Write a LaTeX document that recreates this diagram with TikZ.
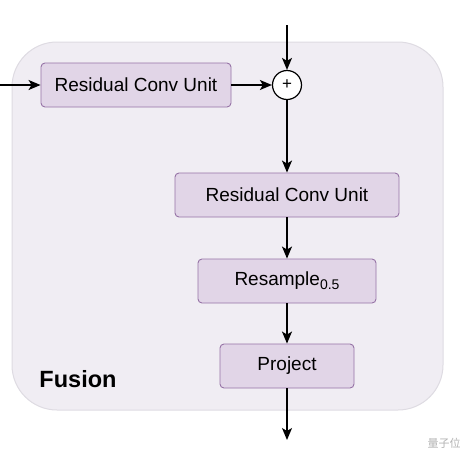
\documentclass[tikz,border=0pt]{standalone}
\usepackage{fontspec}
\setmainfont{Liberation Sans}
\newfontfamily\cjkfont{Noto Sans CJK SC}
\usetikzlibrary{arrows.meta}
\definecolor{unitfill}{HTML}{E1D5E7}
\definecolor{unitline}{HTML}{9673A6}
\definecolor{fusefill}{HTML}{F0EDF3}
\definecolor{fuseline}{HTML}{DEDBE2}

\tikzset{
    unit/.style={draw=unitline, fill=unitfill, rounded corners=4pt, line width=0.9pt,
        minimum height=44pt, font=\fontsize{19}{22}\selectfont},
    arr/.style={-{Stealth[length=12pt,width=10pt,inset=3pt]}, line width=1.4pt},
}

\begin{document}
\begin{tikzpicture}[x=1pt,y=-1pt]
    \useasboundingbox (0,0) rectangle (474,464);

    % fusion block
    \draw[fill=fusefill, draw=fuseline, line width=1pt, rounded corners=45pt] (12,42) rectangle (443,410);
    \node[font=\fontsize{23.5}{27}\selectfont\bfseries] (fusion) at (78,379) {Fusion};

    \node[unit, minimum width=190pt] (rcu1) at (136,85) {Residual Conv Unit};
    \node[draw, fill=white, circle, line width=1.2pt, minimum size=29pt, inner sep=0pt,
        font=\fontsize{17}{19}\selectfont] (add) at (287,85) {+};
    \node[unit, minimum width=224pt] (rcu2) at (287,195) {Residual Conv Unit};
    \node[unit, minimum width=178pt] (resample) at (287,281)
        {Resample\raisebox{-4pt}{\fontsize{14}{16}\selectfont 0.5}};
    \node[unit, minimum width=134pt] (project) at (287,366) {Project};

    \coordinate (in1) at (0,85);
    \coordinate (in2) at (287,25);
    \coordinate (out) at (287,440);

    \draw[arr] (in1) -- (rcu1);
    \draw[arr] (in2) -- (add);
    \draw[arr] (rcu1) -- (add);
    \draw[arr] (add) -- (rcu2);
    \draw[arr] (rcu2) -- (resample);
    \draw[arr] (resample) -- (project);
    \draw[arr] (project) -- (out);

    % watermark
    \node[text=black!30, font=\cjkfont\fontsize{11}{13}\selectfont] (mark) at (444,443) {量子位};

\end{tikzpicture}
\end{document}
